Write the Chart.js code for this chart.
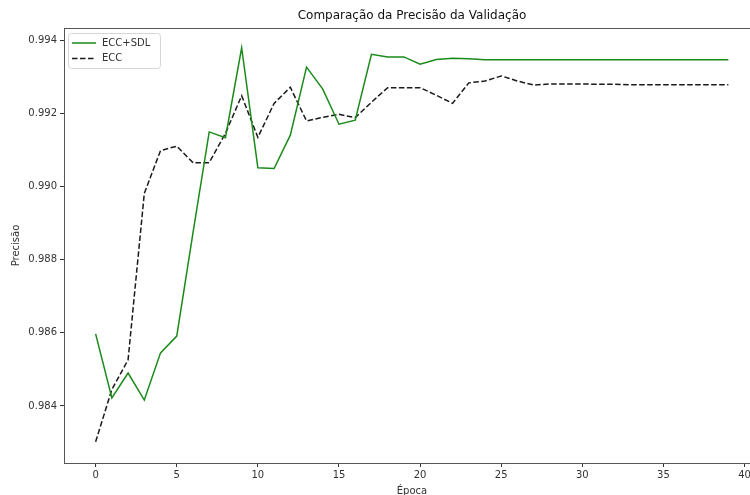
<!DOCTYPE html>
<html>
  <head>
    <meta charset="utf-8" />
    <title>Comparação da Precisão da Validação</title>
    <script src="https://cdn.jsdelivr.net/npm/chart.js"></script>
    <style>
      html, body { margin: 0; padding: 0; overflow: hidden; background: #fff; }
      canvas { display: block; }
    </style>
  </head>
  <body>
    <canvas id="myChart" width="776" height="495"></canvas>

    <script>
      // valores
      const epochs = [0, 1, 2, 3, 4, 5, 6, 7, 8, 9, 10, 11, 12, 13, 14, 15, 16, 17, 18, 19,
        20, 21, 22, 23, 24, 25, 26, 27, 28, 29, 30, 31, 32, 33, 34, 35, 36, 37, 38, 39];

      const eccSdl = [0.98597, 0.98422, 0.98490, 0.98416, 0.98545, 0.98591, 0.98873, 0.99149,
        0.99133, 0.99379, 0.99051, 0.99049, 0.99140, 0.99326, 0.99266, 0.99170, 0.99181,
        0.99361, 0.99354, 0.99354, 0.99334, 0.99347, 0.99350, 0.99349, 0.99346, 0.99346,
        0.99346, 0.99346, 0.99346, 0.99346, 0.99346, 0.99346, 0.99346, 0.99346, 0.99346,
        0.99346, 0.99346, 0.99346, 0.99346, 0.99346];

      const ecc = [0.98302, 0.98445, 0.98526, 0.98981, 0.99098, 0.99110, 0.99065, 0.99065,
        0.99145, 0.99248, 0.99134, 0.99227, 0.99271, 0.99179, 0.99189, 0.99197, 0.99188,
        0.99230, 0.99270, 0.99270, 0.99270, 0.99249, 0.99227, 0.99283, 0.99288, 0.99302,
        0.99288, 0.99277, 0.99280, 0.99280, 0.99280, 0.99279, 0.99279, 0.99278, 0.99278,
        0.99278, 0.99278, 0.99278, 0.99278, 0.99278];

      const xTicks = [0, 5, 10, 15, 20, 25, 30, 35, 40];
      const yTicks = [0.984, 0.986, 0.988, 0.990, 0.992, 0.994];

      const seriesNames = ["ECC+SDL", "ECC"];

      const FONT = "'DejaVu Sans', sans-serif";
      const INK = "#333";

      // moldura completa (estilo matplotlib) + legenda dentro do eixo
      const frameAndLegend = {
        id: "frameAndLegend",
        afterDraw(chart) {
          const ctx = chart.ctx;
          const a = chart.chartArea;
          ctx.save();
          ctx.strokeStyle = "#555";
          ctx.lineWidth = 1;
          ctx.strokeRect(a.left + 0.5, a.top + 0.5, a.right - a.left, a.bottom - a.top);

          // legenda
          const bx = a.left + 4, by = a.top + 5;
          const bw = 92, bh = 35;
          ctx.fillStyle = "rgba(255,255,255,0.8)";
          ctx.strokeStyle = "#d6d6d6";
          ctx.beginPath();
          ctx.roundRect(bx + 0.5, by + 0.5, bw, bh, 3);
          ctx.fill();
          ctx.stroke();

          ctx.font = "10px " + FONT;
          ctx.textBaseline = "middle";
          chart.data.datasets.forEach((ds, i) => {
            const y = by + 10 + i * 15.5;
            ctx.strokeStyle = ds.borderColor;
            ctx.lineWidth = ds.borderWidth;
            ctx.setLineDash(ds.borderDash || []);
            ctx.beginPath();
            ctx.moveTo(bx + 4, y);
            ctx.lineTo(bx + 28, y);
            ctx.stroke();
            ctx.setLineDash([]);
            ctx.fillStyle = INK;
            ctx.fillText(ds.label, bx + 34, y);
          });
          ctx.restore();
        },
      };

      const data = {
        datasets: [
          {
            label: seriesNames[0],
            data: epochs.map((e, i) => ({ x: e, y: eccSdl[i] })),
            borderColor: "#1a8a1a",
            borderWidth: 1.5,
            pointRadius: 0,
            tension: 0,
          },
          {
            label: seriesNames[1],
            data: epochs.map((e, i) => ({ x: e, y: ecc[i] })),
            borderColor: "#1a1a1a",
            borderWidth: 1.5,
            borderDash: [5.5, 2.5],
            pointRadius: 0,
            tension: 0,
          },
        ],
      };

      const config = {
        type: "line",
        data: data,
        plugins: [frameAndLegend],
        options: {
          responsive: false,
          animation: false,
          layout: { padding: { left: 0, right: 16, top: 0, bottom: 0 } },
          plugins: {
            legend: { display: false },
            tooltip: { enabled: false },
            title: {
              display: true,
              fullSize: false,
              text: "Comparação da Precisão da Validação",
              color: "#111",
              font: { family: FONT, size: 12, weight: "normal" },
              padding: { top: 9, bottom: 4.6 },
            },
          },
          scales: {
            x: {
              type: "linear",
              min: -1.95,
              max: 40.95,
              afterBuildTicks: (scale) => {
                scale.ticks = xTicks.map((v) => ({ value: v }));
              },
              afterFit: (scale) => {
                scale.height = 32;
              },
              grid: {
                drawOnChartArea: false,
                drawTicks: true,
                tickLength: 4,
                tickColor: INK,
              },
              border: { display: false },
              ticks: {
                color: INK,
                padding: 2,
                maxRotation: 0,
                font: { family: FONT, size: 10 },
              },
              title: {
                display: true,
                text: "Época",
                color: INK,
                font: { family: FONT, size: 10 },
                padding: { top: 0, bottom: -2 },
              },
            },
            y: {
              type: "linear",
              min: 0.98244,
              max: 0.99433,
              afterBuildTicks: (scale) => {
                scale.ticks = yTicks.map((v) => ({ value: v }));
              },
              afterFit: (scale) => {
                scale.width = 64;
              },
              grid: {
                drawOnChartArea: false,
                drawTicks: true,
                tickLength: 4,
                tickColor: INK,
              },
              border: { display: false },
              ticks: {
                color: INK,
                padding: 3,
                font: { family: FONT, size: 10 },
                callback: (v) => v.toFixed(3),
              },
              title: {
                display: true,
                text: "Precisão",
                color: INK,
                font: { family: FONT, size: 10 },
                padding: { top: 10, bottom: 0 },
              },
            },
          },
        },
      };

      const myChart = new Chart(document.getElementById("myChart"), config);
    </script>
  </body>
</html>
